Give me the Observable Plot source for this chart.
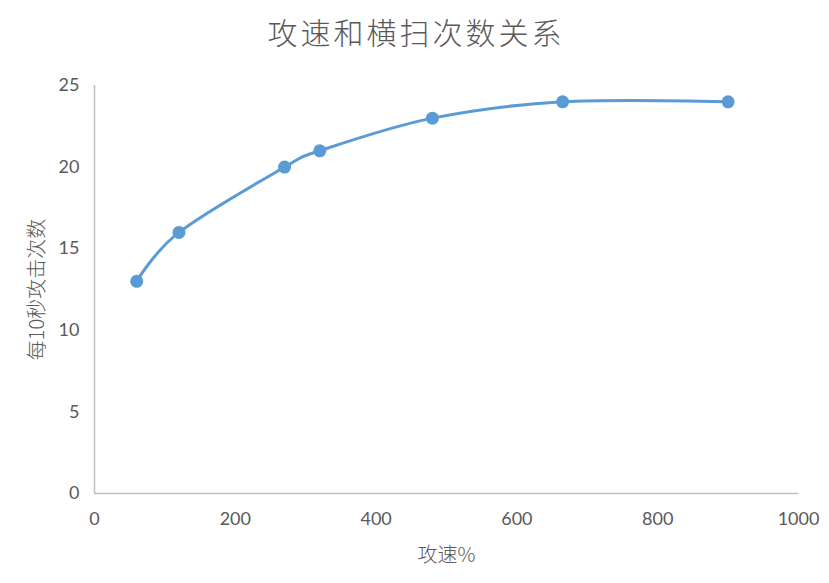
<!DOCTYPE html>
<html><head><meta charset="utf-8">
<script src="https://cdn.jsdelivr.net/npm/d3@7"></script>
<script src="https://cdn.jsdelivr.net/npm/@observablehq/plot@0.6"></script>
<style>
body{margin:0;background:#fff;}
#title{height:66px;line-height:62px;text-align:center;font-family:"Noto Sans CJK SC",sans-serif;font-weight:300;font-size:30px;color:#595959;letter-spacing:3px;padding-left:3px;box-sizing:border-box;}
</style></head>
<body>
<div id="title">攻速和横扫次数关系</div>
<div id="chart"></div>
<script>
const attackSpeed = [60, 120, 270, 320, 480, 665, 900];
const hitsPer10s = [13, 16, 20, 21, 23, 24, 24];
const xTicks = [0, 200, 400, 600, 800, 1000];
const yTicks = [0, 5, 10, 15, 20, 25];
const xLabel = "攻速%";
const yLabel = "每10秒攻击次数";

const data = attackSpeed.map((x, i) => ({x, y: hitsPer10s[i]}));
const font = "Lato, 'Noto Sans CJK SC', sans-serif";

const plot = Plot.plot({
  width: 829,
  height: 517,
  marginTop: 19,
  marginBottom: 90,
  marginLeft: 94,
  marginRight: 31,
  style: {fontFamily: font, fontSize: "18px", color: "#595959", background: "#fff"},
  x: {domain: [0, 1000]},
  y: {domain: [0, 25]},
  marks: [
    Plot.ruleY([0], {stroke: "#bfbfbf", strokeWidth: 1.5}),
    Plot.ruleX([0], {stroke: "#bfbfbf", strokeWidth: 1.5}),
    Plot.axisX({ticks: xTicks, tickFormat: d3.format("d"), tickSize: 0, tickPadding: 19, label: null, fontSize: 18, fill: "#595959"}),
    Plot.axisY({ticks: yTicks, tickFormat: d3.format("d"), tickSize: 0, tickPadding: 15, label: null, fontSize: 18, fill: "#595959"}),
    Plot.text([xLabel], {frameAnchor: "bottom", dy: 68, fontSize: 20, fontFamily: "'Noto Sans CJK SC', sans-serif", fontWeight: 300, fill: "#595959"}),
    Plot.text([yLabel], {frameAnchor: "left", dx: -57, rotate: -90, textAnchor: "middle", fontSize: 20, fontFamily: "'Noto Sans CJK SC', sans-serif", fontWeight: 300, fill: "#595959"}),
    Plot.line(data, {x: "x", y: "y", stroke: "#5b9bd5", strokeWidth: 3, curve: d3.curveCatmullRom.alpha(0)}),
    Plot.dot(data, {x: "x", y: "y", r: 6.5, fill: "#5b9bd5", stroke: "none"})
  ]
});
document.getElementById("chart").appendChild(plot);
</script>
</body></html>
